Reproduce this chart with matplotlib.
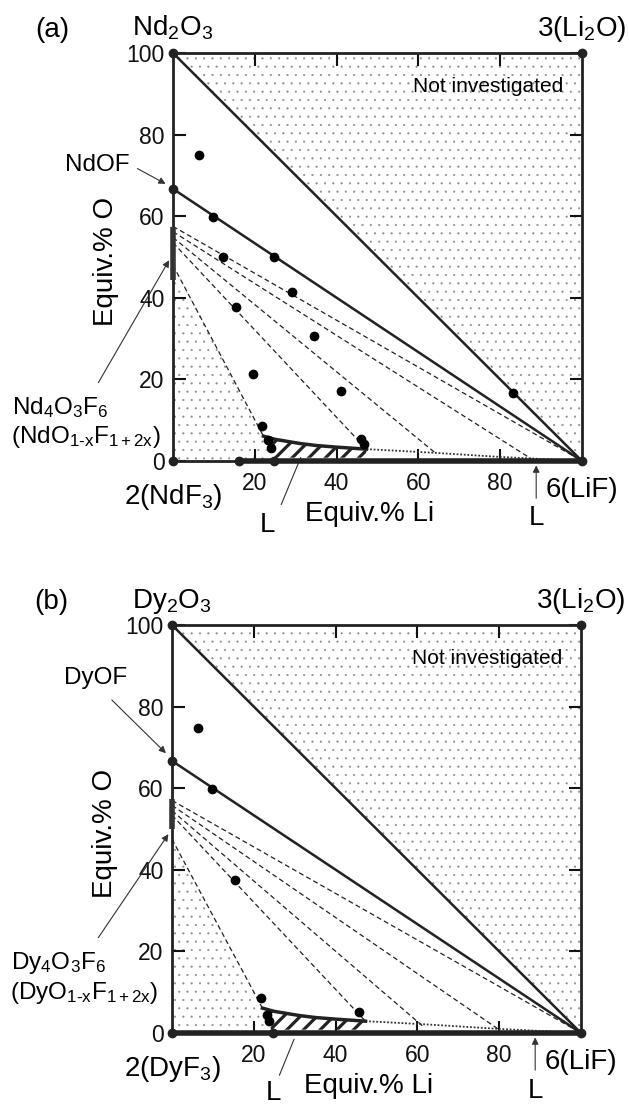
import matplotlib
matplotlib.use("Agg")
import matplotlib.pyplot as plt
import numpy as np

plt.rcParams['font.family'] = ['Liberation Sans', 'DejaVu Sans']
plt.rcParams['mathtext.fontset'] = 'custom'
plt.rcParams['mathtext.rm'] = 'Liberation Sans'
plt.rcParams['mathtext.it'] = 'Liberation Sans'

# experimental points (Equiv.% Li, Equiv.% O)
nd_x = [6.4, 9.9, 12.3, 24.8, 29.2, 15.5, 34.5, 19.5, 41.1, 21.7, 23.2, 23.9, 45.9, 46.8, 83.2]
nd_y = [75.0, 59.9, 49.9, 49.9, 41.3, 37.7, 30.7, 21.3, 17.2, 8.6, 5.1, 3.1, 5.3, 4.2, 16.7]
dy_x = [6.3, 9.9, 15.5, 21.7, 23.2, 23.8, 45.8]
dy_y = [74.8, 59.8, 37.5, 8.5, 4.4, 2.9, 5.1]

# fixed compositions marked on the frame
nd_frame_x = [0, 100, 0, 100, 0, 16.2, 24.7]
nd_frame_y = [100, 100, 0, 0, 66.7, 0, 0]
dy_frame_x = [0, 100, 0, 100, 0, 24.8]
dy_frame_y = [100, 100, 0, 0, 66.7, 0]

# tie lines: O at Li=0, end point (Li, O)
nd_tie_start = [57.5, 56.2, 54.8, 53.5, 48.0]
nd_tie_end_x = [100, 87.5, 64.0, 47.3, 22.1]
nd_tie_end_y = [0, 0.6, 2.1, 2.9, 6.1]
dy_tie_start = [57.0, 55.8, 54.5, 53.4, 47.5]
dy_tie_end_x = [100, 80.0, 61.4, 47.3, 22.1]
dy_tie_end_y = [0, 0.8, 1.6, 2.9, 6.1]

# liquid boundary near the bottom
liq_x = [22.1, 25, 28, 31, 35, 40, 47.3]
liq_y = [6.1, 5.3, 4.8, 4.3, 3.8, 3.4, 2.9]
liqdot_x = [47.3, 55, 64, 80, 90, 100]
liqdot_y = [2.9, 2.5, 2.0, 1.0, 0.5, 0]

# oxyfluoride solid solution range on the left edge
nd_ss = [44.4, 57.3]
dy_ss = [50.0, 57.3]

fig = plt.figure(figsize=(6.29, 11.07), dpi=100)


def hatched(ax, xs, ys, hatch, color, hlw, face='none', z=0):
    p = ax.fill(xs, ys, facecolor=face, edgecolor=color, lw=0, hatch=hatch, zorder=z)[0]
    try:
        p.set_hatch_linewidth(hlw)
    except AttributeError:
        plt.rcParams['hatch.linewidth'] = hlw
    return p


def draw_panel(ax, tag, ln, px, py, fx, fy, ts, tex, tey, ss, thick_from, lab):
    ax.set_xlim(0, 100)
    ax.set_ylim(0, 100)
    # dotted regions
    hatched(ax, [0, 100, 100], [100, 100, 0], '..', '#8a8a8a', 0.3)
    hatched(ax, [0, 0, 22.1, 23.5], [0, 48, 6.1, 0], '..', '#8a8a8a', 0.3)
    # hatched liquid region
    hatched(ax, liq_x + [47.3, 24.3], liq_y + [0.8, 0.8], '//', '#222222', 2.3,
            face='white', z=1)
    ax.plot(liq_x, liq_y, color='#222222', lw=2.5, zorder=3)
    ax.plot(liqdot_x, liqdot_y, color='#333333', lw=1.3, ls=(0, (1, 1)), zorder=2)

    # boundary lines
    ax.plot([0, 100], [100, 0], color='#222222', lw=1.8, zorder=3)
    ax.plot([0, 100], [66.7, 0], color='#222222', lw=1.8, zorder=3)
    for s, ex, ey in zip(ts, tex, tey):
        ax.plot([0, ex], [s, ey], color='#222222', lw=0.9, ls=(0, (4, 2.5)), zorder=2)

    ax.plot([thick_from, 100], [0, 0], color='#222222', lw=4, clip_on=False, zorder=4,
            solid_capstyle='butt')
    ax.plot([0, 0], ss, color='#333333', lw=4, clip_on=False, zorder=4,
            solid_capstyle='butt')

    ax.plot(px, py, 'o', color='black', ms=6, clip_on=False, zorder=5)
    ax.plot(fx, fy, 'o', color='#222222', ms=6, clip_on=False, zorder=5)

    for sp in ax.spines.values():
        sp.set_linewidth(2.0)
        sp.set_color('#222222')
    ax.set_xticks([20, 40, 60, 80])
    ax.set_yticks([0, 20, 40, 60, 80, 100])
    ax.tick_params(direction='in', length=9, width=1.5, top=True, right=True,
                   labelsize=16.5, pad=6, colors='#111111')
    ax.tick_params(axis='x', pad=8)

    big = 20
    fs = 17.5
    ax.text(-29.6, 105.6, tag, fontsize=big, ha='center', va='center')
    ax.text(0, 104.2, ln + r'$_\mathregular{2}$O$_\mathregular{3}$', fontsize=big,
            ha='center', va='baseline')
    ax.text(100, 104.2, r'3(Li$_\mathregular{2}$O)', fontsize=big, ha='center',
            va='baseline')
    ax.text(77, 91.7, 'Not investigated', fontsize=15, ha='center', va='center')
    ax.text(-16.4, 48.8, 'Equiv.% O', fontsize=big, rotation=90, ha='center',
            va='center')
    ax.text(48, -12.9, 'Equiv.% Li', fontsize=big, ha='center', va='center')
    ax.text(0, -8.8, '2(' + ln + r'F$_\mathregular{3}$)', fontsize=big, ha='center',
            va='center')
    ax.text(100, -7.0, '6(LiF)', fontsize=big, ha='center', va='center')

    ax.text(lab['of'][0], lab['of'][1], ln + 'OF', fontsize=fs, ha='center',
            va='center')
    ax.annotate('', xy=lab['of_tip'], xytext=lab['of_tail'],
                arrowprops=dict(arrowstyle='-|>', color='#333333', lw=0.8,
                                mutation_scale=10), annotation_clip=False)
    ax.text(-39.3, lab['ss_y'][0], ln + r'$_\mathregular{4}$O$_\mathregular{3}$F$_\mathregular{6}$',
            fontsize=fs, ha='left', va='center')
    ax.text(-39.6, lab['ss_y'][1],
            '(' + ln + r'O$_\mathregular{1‐x}$F$_\mathregular{1+2x}$)',
            fontsize=fs, ha='left', va='center')
    ax.annotate('', xy=lab['ss_tip'], xytext=lab['ss_tail'],
                arrowprops=dict(arrowstyle='-|>', color='#333333', lw=0.8,
                                mutation_scale=10), annotation_clip=False)
    # liquid labels
    ax.text(lab['l1'][0], lab['l1'][1], 'L', fontsize=big, ha='center', va='center')
    ax.annotate('', xy=lab['l1_tip'], xytext=lab['l1_tail'],
                arrowprops=dict(arrowstyle='-', color='#333333', lw=0.8),
                annotation_clip=False)
    ax.text(88.8, lab['l2_y'], 'L', fontsize=big, ha='center', va='center')
    ax.annotate('', xy=(88.8, -0.4), xytext=(88.8, -9.8),
                arrowprops=dict(arrowstyle='-|>', color='#333333', lw=0.8,
                                mutation_scale=10), annotation_clip=False)


ax_a = fig.add_axes([173 / 629, 1 - 461 / 1107, 409 / 629, 408 / 1107])
ax_b = fig.add_axes([172 / 629, 1 - 1033 / 1107, 409 / 629, 408 / 1107])

lab_a = {'of': (-18.6, 72.5), 'of_tail': (-9.3, 72.0), 'of_tip': (-1.2, 67.6),
         'ss_y': (13.0, 5.9), 'ss_tail': (-18.6, 18.6), 'ss_tip': (-0.6, 49.8),
         'l1': (23.2, -15.7), 'l1_tail': (26.2, -11.3), 'l1_tip': (31.5, 1.5),
         'l2_y': -14.0}
lab_b = {'of': (-18.6, 87.0), 'of_tail': (-15.2, 82.1), 'of_tip': (-1.0, 68.1),
         'ss_y': (17.2, 9.8), 'ss_tail': (-18.4, 22.8), 'ss_tip': (-0.5, 49.3),
         'l1': (24.7, -14.8), 'l1_tail': (26.0, -11.0), 'l1_tip': (30.1, -0.9),
         'l2_y': -14.3}

draw_panel(ax_a, '(a)', 'Nd', nd_x, nd_y, nd_frame_x, nd_frame_y,
           nd_tie_start, nd_tie_end_x, nd_tie_end_y, nd_ss, 16.2, lab_a)
draw_panel(ax_b, '(b)', 'Dy', dy_x, dy_y, dy_frame_x, dy_frame_y,
           dy_tie_start, dy_tie_end_x, dy_tie_end_y, dy_ss, 0, lab_b)

fig.savefig('out.png', dpi=100, facecolor='white')
